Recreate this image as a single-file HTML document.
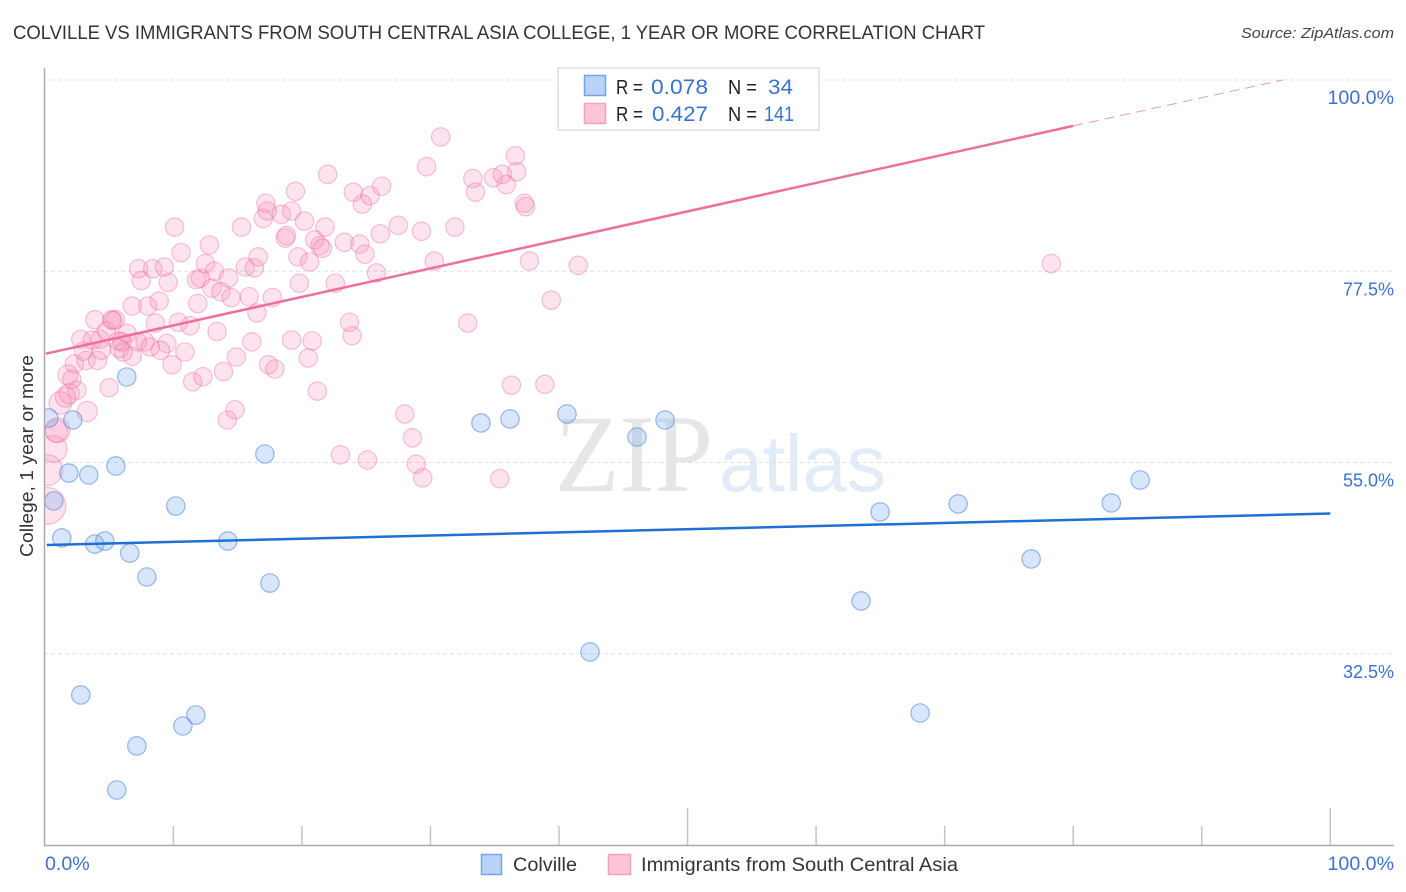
<!DOCTYPE html>
<html lang="en">
<head>
<meta charset="utf-8">
<title>Colville vs Immigrants from South Central Asia College Correlation Chart</title>
<style>
html,body{margin:0;padding:0;background:#fff;width:1406px;height:892px;overflow:hidden}
svg{display:block}
text{font-family:"Liberation Sans",sans-serif}
</style>
</head>
<body>
<svg id="chart" xmlns="http://www.w3.org/2000/svg" width="1406" height="892" viewBox="0 0 1406 892">
  <defs>
    <clipPath id="plot-clip"><rect x="45" y="60" width="1349" height="786"/></clipPath>
  </defs>
  <text x="13" y="39" font-size="19" fill="#33333b" textLength="972" lengthAdjust="spacingAndGlyphs">COLVILLE VS IMMIGRANTS FROM SOUTH CENTRAL ASIA COLLEGE, 1 YEAR OR MORE CORRELATION CHART</text>
  <text x="1241" y="38" font-size="15" font-style="italic" fill="#444" textLength="153" lengthAdjust="spacingAndGlyphs">Source: ZipAtlas.com</text>

  <g>
    <text x="555" y="491" font-size="110" fill="#e6e6e6" textLength="158" lengthAdjust="spacingAndGlyphs" style="font-family:'Liberation Serif',serif">ZIP</text>
    <text x="719" y="491" font-size="80" fill="#e2ebf8" textLength="167" lengthAdjust="spacingAndGlyphs">atlas</text>
  </g>

  <g id="grid"></g>
  <g id="points-pink" clip-path="url(#plot-clip)"></g>
  <g id="points-blue" clip-path="url(#plot-clip)"></g>
  <g id="trends"></g>
  <g id="axes"></g>

  <text transform="translate(33,557) rotate(-90)" font-size="18.5" fill="#33333b" textLength="202" lengthAdjust="spacingAndGlyphs">College, 1 year or more</text>

  <g>
    <rect x="558" y="68" width="261" height="62" fill="#fff" stroke="#dddddd" stroke-width="1.5"/>
    <rect x="584.5" y="75.5" width="21" height="20" fill="#b9d3f6" stroke="#76a3e4" stroke-width="1.5"/>
    <rect x="584.5" y="103.5" width="21" height="20" fill="#fcc5d8" stroke="#f0a3bf" stroke-width="1.5"/>
    <text x="616" y="94" font-size="20" fill="#222" textLength="27" lengthAdjust="spacingAndGlyphs">R =</text>
    <text x="651" y="94" font-size="21.5" fill="#3a72cf" textLength="57" lengthAdjust="spacingAndGlyphs">0.078</text>
    <text x="728" y="94" font-size="20" fill="#222" textLength="29" lengthAdjust="spacingAndGlyphs">N =</text>
    <text x="768" y="94" font-size="21.5" fill="#3a72cf" textLength="25" lengthAdjust="spacingAndGlyphs">34</text>
    <text x="616" y="121" font-size="20" fill="#222" textLength="27" lengthAdjust="spacingAndGlyphs">R =</text>
    <text x="652" y="121" font-size="21.5" fill="#3a72cf" textLength="56" lengthAdjust="spacingAndGlyphs">0.427</text>
    <text x="728" y="121" font-size="20" fill="#222" textLength="29" lengthAdjust="spacingAndGlyphs">N =</text>
    <text x="764" y="121" font-size="21.5" fill="#3a72cf" textLength="30" lengthAdjust="spacingAndGlyphs">141</text>
  </g>

  <g>
    <rect x="481.5" y="854.5" width="20" height="20" fill="#b9d3f6" stroke="#76a3e4" stroke-width="1.5"/>
    <text x="513" y="871" font-size="19.5" fill="#33333b" textLength="64" lengthAdjust="spacingAndGlyphs">Colville</text>
    <rect x="608.5" y="854.5" width="22" height="20" fill="#fcc5d8" stroke="#f0a3bf" stroke-width="1.5"/>
    <text x="641" y="871" font-size="19.5" fill="#33333b" textLength="317" lengthAdjust="spacingAndGlyphs">Immigrants from South Central Asia</text>
  </g>
</svg>
<script>
const colvilleX = [0.31,0.70,1.32,1.87,2.18,3.42,3.89,4.67,5.53,6.38,6.61,7.94,2.80,7.16,5.60,10.74,11.75,10.19,14.24,17.12,17.51,33.93,36.19,40.62,46.07,48.25,42.41,63.50,64.98,68.09,71.05,76.73,82.96,85.21];
const colvilleY = [60.24,50.47,46.12,53.76,60.0,53.53,45.41,45.76,54.59,65.06,44.35,41.53,27.65,21.65,16.47,24.0,25.29,49.88,45.76,56.0,40.82,59.65,60.12,60.71,58.0,60.0,32.71,38.71,49.18,25.53,50.12,43.65,50.24,52.94];
const immigrantsX = [0.2,0.2,0.7,1.0,0.9,1.2,1.6,1.9,2.5,1.8,2.1,2.3,3.3,5.0,3.2,4.1,2.8,3.0,3.7,3.9,4.3,4.4,4.8,5.2,5.5,5.7,6.1,6.4,6.8,7.2,7.3,7.5,6.8,7.8,8.0,8.2,8.4,8.9,8.6,9.3,9.6,9.9,9.5,9.0,10.1,10.6,10.4,10.9,11.3,11.5,11.8,11.9,12.1,12.3,12.5,12.8,13.0,13.2,13.4,13.7,13.9,14.2,14.3,14.5,14.8,14.9,15.3,15.6,15.9,16.1,16.3,16.5,16.6,17.0,17.2,17.3,17.4,17.9,17.7,18.4,18.7,18.8,19.2,19.2,19.5,19.7,19.8,20.2,20.5,20.6,20.8,21.0,21.2,21.4,21.6,21.8,22.0,22.6,23.0,23.3,23.7,23.9,24.0,24.5,24.7,24.9,25.1,25.3,25.8,26.1,26.2,27.5,28.0,28.6,28.9,29.3,29.4,29.7,30.3,30.8,31.9,32.9,33.3,33.5,34.9,35.4,35.6,35.9,36.3,36.6,36.7,37.3,37.4,37.7,38.9,39.4,41.5,78.3,5.3,6.0,5.8];
const immigrantsY = [49.9,54.1,56.6,58.8,58.7,62,62.7,63.1,63.5,65.3,64.8,66.6,61,63.8,67,67,69.5,68.1,69.4,71.8,69.5,68.2,70.5,71.8,71.8,69.3,68,70.2,67.5,69.2,77.8,76.4,73.4,69.2,73.4,68.6,77.8,74,71.4,78,76.2,66.5,69,68.2,82.7,79.7,71.5,68,71.1,64.5,76.5,73.7,76.7,65.1,78.4,80.6,75.5,77.5,70.4,75.1,65.7,60,76.7,74.4,61.2,67.4,82.7,78,74.5,69.2,77.9,72.6,79.2,83.7,85.5,84.6,66.5,66,74.4,84.2,81.4,81.7,84.6,69.4,86.9,79.2,76.1,83.4,67.3,78.6,69.3,81.2,63.4,80.5,80.2,82.7,88.9,76.1,55.9,80.9,71.5,69.9,86.8,80.7,85.4,79.5,55.3,86.4,77.3,81.9,87.5,82.9,60.7,57.9,54.8,82.2,53.2,89.8,78.7,93.3,82.7,71.4,88.4,86.8,88.5,53.1,88.9,87.7,64.1,91.1,89.2,85.5,85.1,78.7,64.2,74.1,78.2,78.4,71.7,69.2,68.4];
const immigrantsWeight = [4,2.8,2.1,1.8,1.5,1.5,1.2,1.2,1,1.2,1,1,1.2];
const colvilleTrendX = [0,100];
const colvilleTrendY = [45.3,49.0];
const immigrantsTrendX = [0,80];
const immigrantsTrendY = [67.8,94.6];
const immigrantsProjectionX = [80,96.3];
const immigrantsProjectionY = [94.6,100];
const yTicks = [100,77.5,55,32.5];
const yTickLabels = ["100.0%","77.5%","55.0%","32.5%"];
const xTicks = [0,10,20,30,40,50,60,70,80,90,100];
const xMajorTicks = [50,100];
const xEndLabels = ["0.0%","100.0%"];

const NS = "http://www.w3.org/2000/svg";
function xScale(v){ return 44.8 + 12.855 * v; }
function yScale(v){ return 80 + (100 - v) * 8.5; }
function radius(w){ return 9.2 * Math.sqrt(w); }
function make(tag, attrs, parent){
  const el = document.createElementNS(NS, tag);
  for (const k in attrs) el.setAttribute(k, attrs[k]);
  parent.appendChild(el);
  return el;
}

const grid = document.getElementById("grid");
yTicks.forEach(function(t){
  const line = make("line", {x1:44, x2:1394, y1:yScale(t), y2:yScale(t), stroke:"#e0e0e0", "stroke-width":1, "stroke-dasharray":"4 3"}, grid);
  
  
});

const pinkLayer = document.getElementById("points-pink");
immigrantsX.forEach(function(x, i){
  const w = i < immigrantsWeight.length ? immigrantsWeight[i] : 1;
  const c = make("circle", {cx:xScale(x), cy:yScale(immigrantsY[i]), r:radius(w), fill:"rgba(246,140,178,0.24)", stroke:"rgba(235,115,160,0.42)", "stroke-width":1.2}, pinkLayer);
  
  
});

const blueLayer = document.getElementById("points-blue");
colvilleX.forEach(function(x, i){
  const c = make("circle", {cx:xScale(x), cy:yScale(colvilleY[i]), r:radius(1), fill:"rgba(110,165,238,0.28)", stroke:"rgba(75,130,220,0.55)", "stroke-width":1.2}, blueLayer);
  
  
});

const trends = document.getElementById("trends");
const blueTrend = make("line", {x1:xScale(colvilleTrendX[0])+2, y1:yScale(colvilleTrendY[0]), x2:xScale(colvilleTrendX[1]), y2:yScale(colvilleTrendY[1]), stroke:"#1f70d6", "stroke-width":2.5}, trends);


const pinkTrend = make("line", {x1:xScale(immigrantsTrendX[0])+1, y1:yScale(immigrantsTrendY[0]), x2:xScale(immigrantsTrendX[1]), y2:yScale(immigrantsTrendY[1]), stroke:"#ec6f9f", "stroke-width":2.5}, trends);


const pinkProj = make("line", {x1:xScale(immigrantsProjectionX[0]), y1:yScale(immigrantsProjectionY[0]), x2:xScale(immigrantsProjectionX[1]), y2:yScale(immigrantsProjectionY[1]), stroke:"#e99ab8", "stroke-width":1, "stroke-dasharray":"10 6"}, trends);



const axes = document.getElementById("axes");
const yAxis = make("line", {x1:44.5, x2:44.5, y1:68, y2:846, stroke:"#ababab", "stroke-width":1.5}, axes);


const xAxis = make("line", {x1:44, x2:1394, y1:845.5, y2:845.5, stroke:"#ababab", "stroke-width":1.5}, axes);


xTicks.forEach(function(t){
  if (t === 0) return;
  const major = xMajorTicks.indexOf(t) >= 0;
  const tick = make("line", {x1:xScale(t), x2:xScale(t), y1:major ? 808 : 826, y2:845, stroke:"#c4c4c4", "stroke-width":1.5}, axes);
  
  
});
yTicks.forEach(function(t, i){
  const label = make("text", {x:1394, y:yScale(t) + 24, "text-anchor":"end", "font-size":i === 0 ? 19.6 : 18, fill:"#3a72cf"}, axes);
  label.textContent = yTickLabels[i];
  
  
});
const xLeft = make("text", {x:45, y:870, "font-size":19.6, fill:"#3a72cf"}, axes);
xLeft.textContent = xEndLabels[0];


const xRight = make("text", {x:1394, y:870, "text-anchor":"end", "font-size":19.6, fill:"#3a72cf"}, axes);
xRight.textContent = xEndLabels[1];


</script>
</body>
</html>
